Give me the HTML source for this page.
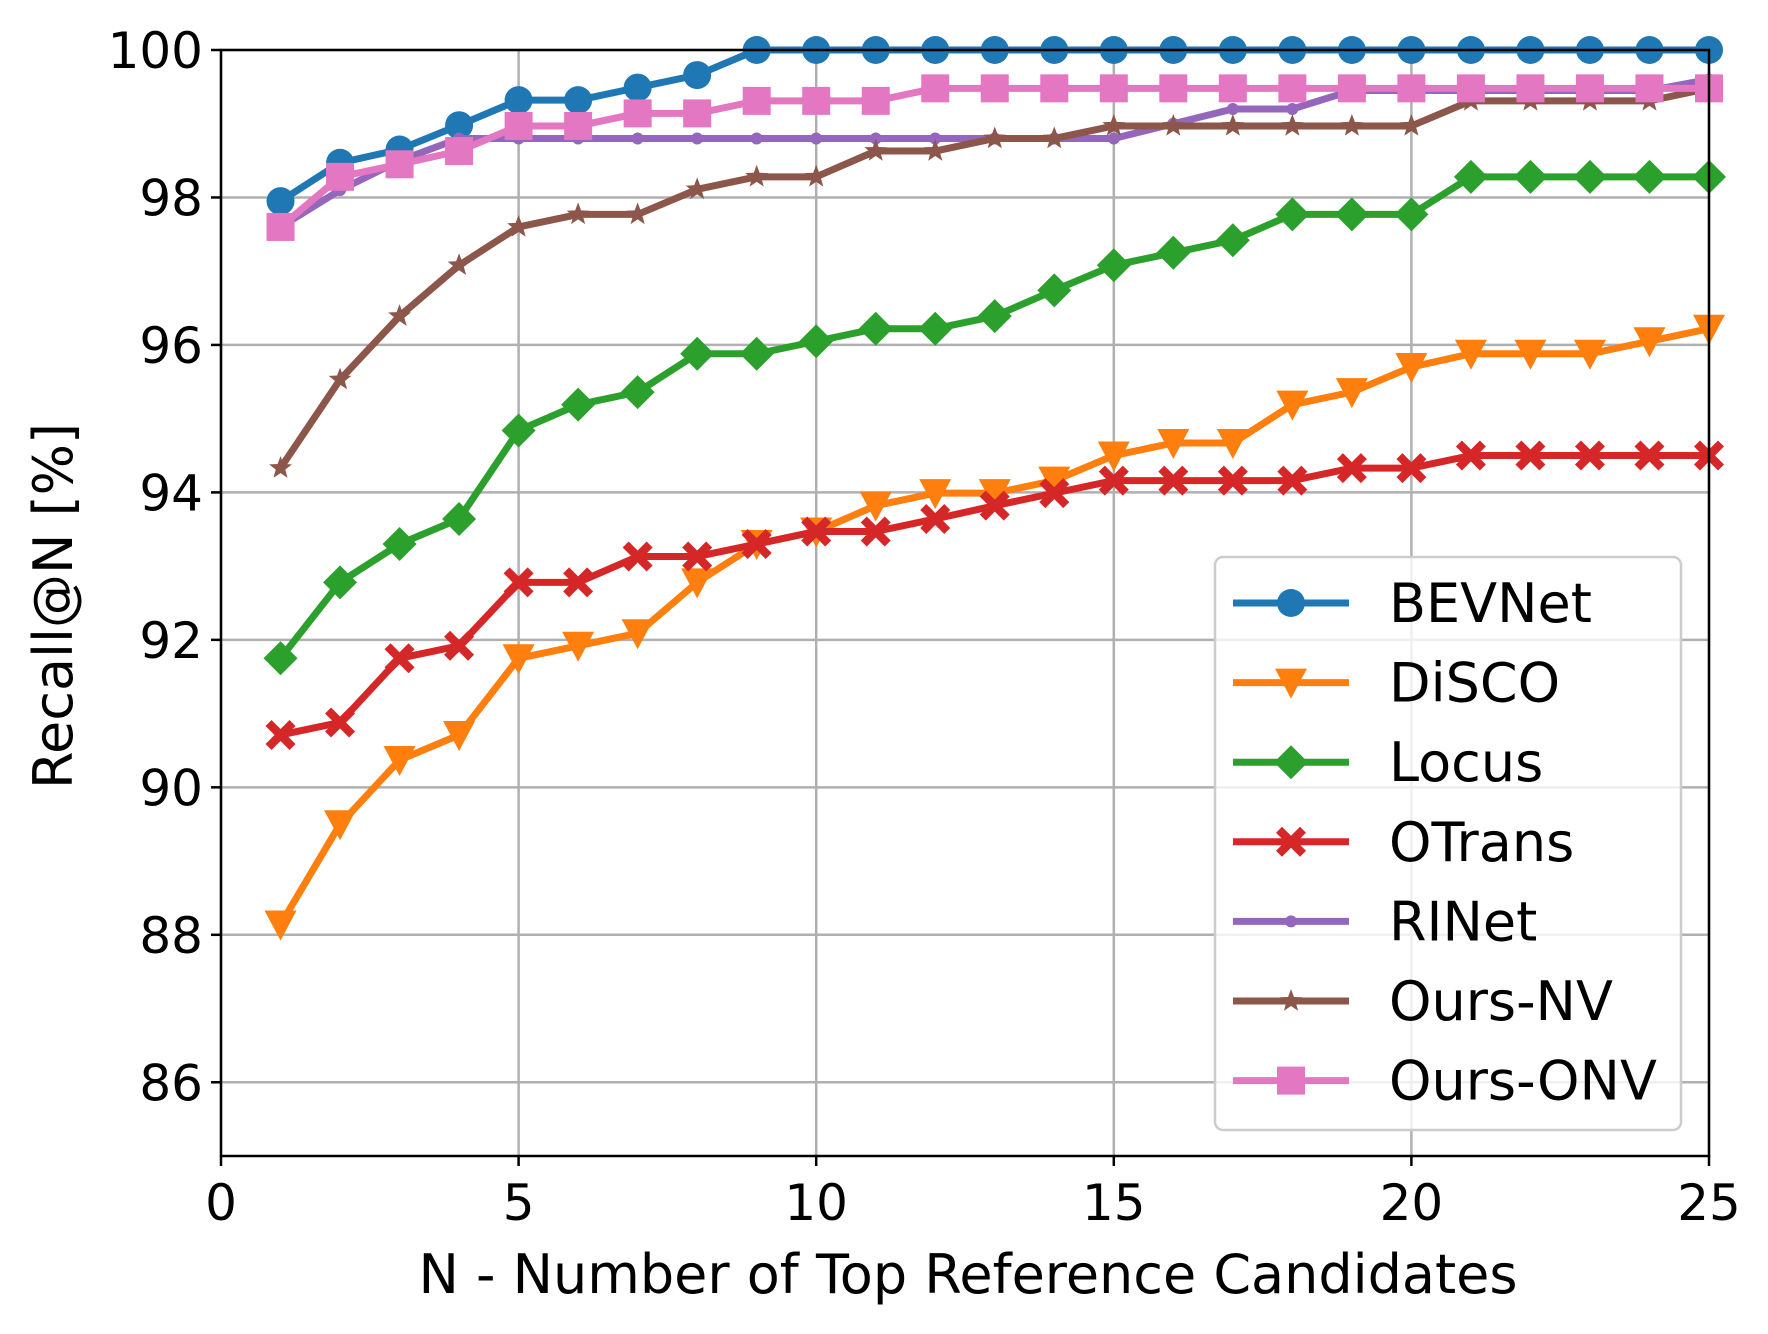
<!DOCTYPE html>
<html><head><meta charset="utf-8"><style>
html,body{margin:0;padding:0;background:#fff}
svg{display:block;font-family:"DejaVu Sans","Liberation Sans",sans-serif}
</style></head><body>
<svg id="chart" width="1768" height="1334" viewBox="0 0 1768 1334">
<g id="grid"></g>
<g id="series"></g>
<rect x="221" y="50" width="1488" height="1106" fill="none" stroke="#000" stroke-width="2.5"/>
<g id="ticks"></g>
<text x="968" y="1293" font-size="54" text-anchor="middle">N - Number of Top Reference Candidates</text>
<text transform="translate(72,606) rotate(-90)" font-size="54" text-anchor="middle">Recall@N [%]</text>
<g id="legend"></g>
</svg>
<script>
const xs = [1,2,3,4,5,6,7,8,9,10,11,12,13,14,15,16,17,18,19,20,21,22,23,24,25];
const names = ["BEVNet","DiSCO","Locus","OTrans","RINet","Ours-NV","Ours-ONV"];
const colors = ["#1f77b4","#ff7f0e","#2ca02c","#d62728","#9467bd","#8c564b","#e377c2"];
const markers = ["circle","tri","diamond","x","dot","star","square"];
const bevnet = [97.95,98.47,98.65,98.98,99.32,99.32,99.49,99.66,100,100,100,100,100,100,100,100,100,100,100,100,100,100,100,100,100];
const disco = [88.14,89.5,90.37,90.71,91.75,91.92,92.09,92.78,93.3,93.47,93.82,93.99,93.99,94.16,94.5,94.67,94.67,95.19,95.36,95.7,95.88,95.88,95.88,96.05,96.22];
const locus = [91.75,92.78,93.3,93.64,94.84,95.19,95.36,95.88,95.88,96.05,96.22,96.22,96.39,96.74,97.08,97.25,97.42,97.77,97.77,97.77,98.28,98.28,98.28,98.28,98.28];
const otrans = [90.71,90.88,91.75,91.92,92.78,92.78,93.13,93.13,93.3,93.47,93.47,93.64,93.82,93.99,94.16,94.16,94.16,94.16,94.33,94.33,94.5,94.5,94.5,94.5,94.5];
const rinet = [97.6,98.1,98.5,98.8,98.8,98.8,98.8,98.8,98.8,98.8,98.8,98.8,98.8,98.8,98.8,99.0,99.2,99.2,99.45,99.45,99.45,99.45,99.45,99.45,99.6];
const oursNV = [94.33,95.53,96.39,97.08,97.6,97.77,97.77,98.11,98.28,98.28,98.63,98.63,98.8,98.8,98.97,98.97,98.97,98.97,98.97,98.97,99.31,99.31,99.31,99.31,99.48];
const oursONV = [97.6,98.28,98.45,98.63,98.97,98.97,99.14,99.14,99.31,99.31,99.31,99.48,99.48,99.48,99.48,99.48,99.48,99.48,99.48,99.48,99.48,99.48,99.48,99.48,99.48];
const xTicks = [0,5,10,15,20,25];
const yTicks = [86,88,90,92,94,96,98,100];

const allSeries = [bevnet,disco,locus,otrans,rinet,oursNV,oursONV];
const NS="http://www.w3.org/2000/svg";
const L=221,R=1709,T=50,B=1156;
const X=v=>L+(v-0)/(25-0)*(R-L);
const Y=v=>B-(v-85)/(100-85)*(B-T);
function mk(tag,attrs,parent){const e=document.createElementNS(NS,tag);for(const k in attrs)e.setAttribute(k,attrs[k]);parent.appendChild(e);return e;}
const grid=document.getElementById('grid'),ticks=document.getElementById('ticks');
xTicks.forEach(t=>{
  const g=mk('line',{x1:X(t),x2:X(t),y1:T,y2:B,stroke:'#b0b0b0','stroke-width':2.5},grid);
  
  
  const tk=mk('line',{x1:X(t),x2:X(t),y1:B,y2:B+10,stroke:'#000','stroke-width':2.5},ticks);
  
  
  const tx=mk('text',{x:X(t),y:B+64,'font-size':50,'text-anchor':'middle'},ticks);
  tx.textContent=t;
  
  
});
yTicks.forEach(t=>{
  const g=mk('line',{x1:L,x2:R,y1:Y(t),y2:Y(t),stroke:'#b0b0b0','stroke-width':2.5},grid);
  
  
  const tk=mk('line',{x1:L-10,x2:L,y1:Y(t),y2:Y(t),stroke:'#000','stroke-width':2.5},ticks);
  
  
  const tx=mk('text',{x:L-18,y:Y(t)+18,'font-size':50,'text-anchor':'end'},ticks);
  tx.textContent=t;
  
  
});
function marker(type,cx,cy,c,parent){
  let e;
  if(type==='circle') e=mk('circle',{cx,cy,r:14,fill:c},parent);
  else if(type==='dot') e=mk('circle',{cx,cy,r:6,fill:c},parent);
  else if(type==='square') e=mk('rect',{x:cx-14,y:cy-14,width:28,height:28,fill:c},parent);
  else if(type==='diamond') e=mk('polygon',{points:`${cx},${cy-17} ${cx+17},${cy} ${cx},${cy+17} ${cx-17},${cy}`,fill:c},parent);
  else if(type==='tri') e=mk('polygon',{points:`${cx-16},${cy-14} ${cx+16},${cy-14} ${cx},${cy+16}`,fill:c},parent);
  else if(type==='x'){const s=9,w=6;e=mk('polygon',{points:`${cx-s-w},${cy-s} ${cx-s},${cy-s-w} ${cx},${cy-w} ${cx+s},${cy-s-w} ${cx+s+w},${cy-s} ${cx+w},${cy} ${cx+s+w},${cy+s} ${cx+s},${cy+s+w} ${cx},${cy+w} ${cx-s},${cy+s+w} ${cx-s-w},${cy+s} ${cx-w},${cy}`,fill:c},parent);}
  else if(type==='star'){let p=[];for(let i=0;i<10;i++){const a=-Math.PI/2+i*Math.PI/5,r=i%2?5:12;p.push((cx+r*Math.cos(a))+','+(cy+r*Math.sin(a)));}e=mk('polygon',{points:p.join(' '),fill:c},parent);}
  return e;
}
const sg=document.getElementById('series');
allSeries.forEach((arr,i)=>{
  const g=mk('g',{},sg);
  
  
  const pl=mk('polyline',{points:arr.map((v,j)=>X(xs[j])+','+Y(v)).join(' '),fill:'none',stroke:colors[i],'stroke-width':7,'stroke-linejoin':'round'},g);
  
  
  arr.forEach((v,j)=>{
    const m=marker(markers[i],X(xs[j]),Y(v),colors[i],g);
    
    
  });
});
const lg=document.getElementById('legend');
const box=mk('rect',{x:1215,y:557,width:466,height:573,rx:8,fill:'#fff','fill-opacity':0.8,stroke:'#ccc','stroke-width':2.5},lg);


names.forEach((n,i)=>{
  const y=603+i*79.6;
  const g=mk('g',{},lg);
  
  
  mk('line',{x1:1233,x2:1349,y1:y,y2:y,stroke:colors[i],'stroke-width':7},g);
  marker(markers[i],1291,y,colors[i],g);
  const t=mk('text',{x:1389,y:y+19,'font-size':54},g);
  t.textContent=n;
});
</script>
</body></html>
